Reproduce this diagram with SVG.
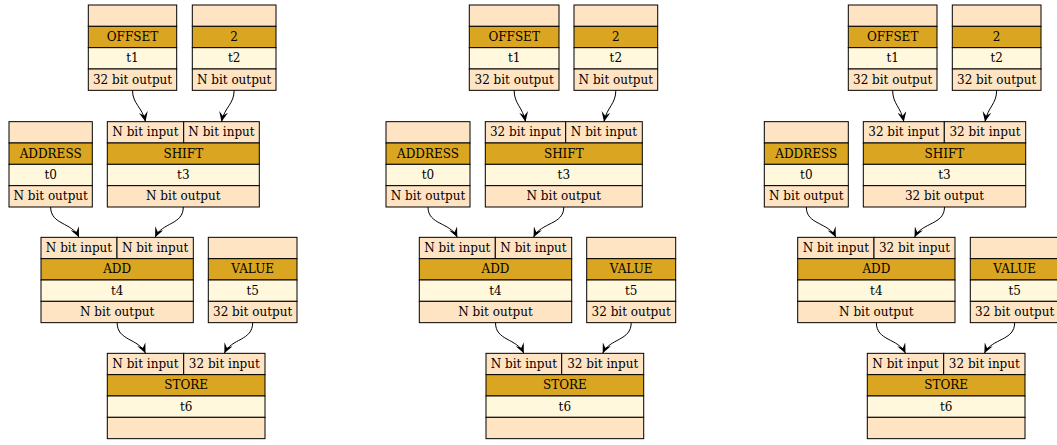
<svg xmlns="http://www.w3.org/2000/svg" width="1057" height="445" viewBox="0 0 1057 445">
<style>
  .io, .op, .id { stroke: #000; stroke-width: 1; }
  .io { fill: #ffe4c4; }
  .op { fill: #daa520; }
  .id { fill: #fff8dc; }
  text { font-family: "DejaVu Serif", "Liberation Serif", serif; font-size: 12px; fill: #000; text-anchor: middle; }
  .edge { fill: none; stroke: #000; stroke-width: 1; marker-end: url(#vee); }
</style>
<defs>
  <marker id="vee" markerUnits="userSpaceOnUse" viewBox="0 0 10 9" markerWidth="10" markerHeight="9" refX="10" refY="4.5" orient="auto">
    <path d="M0,0 L10,4.5 L0,9 L4,4.5 Z" fill="#000"/>
  </marker>
</defs>
<rect width="1057" height="445" fill="#fff"/>

<!-- ============ graph 1 ============ -->
<g id="g1_t1">
  <rect class="io" x="88.3" y="5" width="88.4" height="21.33"/>
  <rect class="op" x="88.3" y="26.33" width="88.4" height="21.33"/>
  <rect class="id" x="88.3" y="47.67" width="88.4" height="21.33"/>
  <rect class="io" x="88.3" y="69" width="88.4" height="21.33"/>
  <text x="132.5" y="41">OFFSET</text><text x="132.5" y="62.4">t1</text><text x="132.5" y="83.7">32 bit output</text>
</g>
<g id="g1_t2">
  <rect class="io" x="192.3" y="5" width="83.7" height="21.33"/>
  <rect class="op" x="192.3" y="26.33" width="83.7" height="21.33"/>
  <rect class="id" x="192.3" y="47.67" width="83.7" height="21.33"/>
  <rect class="io" x="192.3" y="69" width="83.7" height="21.33"/>
  <text x="234.15" y="41">2</text><text x="234.15" y="62.4">t2</text><text x="234.15" y="83.7">N bit output</text>
</g>
<g id="g1_t0">
  <rect class="io" x="9" y="121.67" width="83.3" height="21.33"/>
  <rect class="op" x="9" y="143" width="83.3" height="21.33"/>
  <rect class="id" x="9" y="164.33" width="83.3" height="21.33"/>
  <rect class="io" x="9" y="185.67" width="83.3" height="21.33"/>
  <text x="50.65" y="157.7">ADDRESS</text><text x="50.65" y="179">t0</text><text x="50.65" y="200.4">N bit output</text>
</g>
<g id="g1_t3">
  <rect class="io" x="107.3" y="121.67" width="76.4" height="21.33"/>
  <rect class="io" x="183.7" y="121.67" width="75.6" height="21.33"/>
  <rect class="op" x="107.3" y="143" width="152" height="21.33"/>
  <rect class="id" x="107.3" y="164.33" width="152" height="21.33"/>
  <rect class="io" x="107.3" y="185.67" width="152" height="21.33"/>
  <text x="145.5" y="136.4">N bit input</text><text x="221.5" y="136.4">N bit input</text>
  <text x="183.3" y="157.7">SHIFT</text><text x="183.3" y="179">t3</text><text x="183.3" y="200.4">N bit output</text>
</g>
<g id="g1_t4">
  <rect class="io" x="41" y="237.33" width="76" height="21.33"/>
  <rect class="io" x="117" y="237.33" width="76.3" height="21.33"/>
  <rect class="op" x="41" y="258.67" width="152.3" height="21.33"/>
  <rect class="id" x="41" y="280" width="152.3" height="21.33"/>
  <rect class="io" x="41" y="301.33" width="152.3" height="21.33"/>
  <text x="79" y="252">N bit input</text><text x="155.15" y="252">N bit input</text>
  <text x="117.15" y="273.4">ADD</text><text x="117.15" y="294.7">t4</text><text x="117.15" y="316">N bit output</text>
</g>
<g id="g1_t5">
  <rect class="io" x="208.3" y="237.33" width="88.7" height="21.33"/>
  <rect class="op" x="208.3" y="258.67" width="88.7" height="21.33"/>
  <rect class="id" x="208.3" y="280" width="88.7" height="21.33"/>
  <rect class="io" x="208.3" y="301.33" width="88.7" height="21.33"/>
  <text x="252.65" y="273.4">VALUE</text><text x="252.65" y="294.7">t5</text><text x="252.65" y="316">32 bit output</text>
</g>
<g id="g1_t6">
  <rect class="io" x="107.3" y="353.33" width="76.4" height="21.33"/>
  <rect class="io" x="183.7" y="353.33" width="81.3" height="21.33"/>
  <rect class="op" x="107.3" y="374.67" width="157.7" height="21.33"/>
  <rect class="id" x="107.3" y="396" width="157.7" height="21.33"/>
  <rect class="io" x="107.3" y="417.33" width="157.7" height="21.33"/>
  <text x="145.5" y="368">N bit input</text><text x="224.35" y="368">32 bit input</text>
  <text x="186.15" y="389.4">STORE</text><text x="186.15" y="410.7">t6</text>
</g>

<!-- ============ graph 2 ============ -->
<g id="g2_t1">
  <rect class="io" x="469.3" y="5" width="89.7" height="21.33"/>
  <rect class="op" x="469.3" y="26.33" width="89.7" height="21.33"/>
  <rect class="id" x="469.3" y="47.67" width="89.7" height="21.33"/>
  <rect class="io" x="469.3" y="69" width="89.7" height="21.33"/>
  <text x="514.15" y="41">OFFSET</text><text x="514.15" y="62.4">t1</text><text x="514.15" y="83.7">32 bit output</text>
</g>
<g id="g2_t2">
  <rect class="io" x="574" y="5" width="83.7" height="21.33"/>
  <rect class="op" x="574" y="26.33" width="83.7" height="21.33"/>
  <rect class="id" x="574" y="47.67" width="83.7" height="21.33"/>
  <rect class="io" x="574" y="69" width="83.7" height="21.33"/>
  <text x="615.85" y="41">2</text><text x="615.85" y="62.4">t2</text><text x="615.85" y="83.7">N bit output</text>
</g>
<g id="g2_t0">
  <rect class="io" x="386" y="121.67" width="84" height="21.33"/>
  <rect class="op" x="386" y="143" width="84" height="21.33"/>
  <rect class="id" x="386" y="164.33" width="84" height="21.33"/>
  <rect class="io" x="386" y="185.67" width="84" height="21.33"/>
  <text x="428" y="157.7">ADDRESS</text><text x="428" y="179">t0</text><text x="428" y="200.4">N bit output</text>
</g>
<g id="g2_t3">
  <rect class="io" x="485.3" y="121.67" width="80.4" height="21.33"/>
  <rect class="io" x="565.7" y="121.67" width="76.6" height="21.33"/>
  <rect class="op" x="485.3" y="143" width="157" height="21.33"/>
  <rect class="id" x="485.3" y="164.33" width="157" height="21.33"/>
  <rect class="io" x="485.3" y="185.67" width="157" height="21.33"/>
  <text x="525.5" y="136.4">32 bit input</text><text x="604" y="136.4">N bit input</text>
  <text x="563.8" y="157.7">SHIFT</text><text x="563.8" y="179">t3</text><text x="563.8" y="200.4">N bit output</text>
</g>
<g id="g2_t4">
  <rect class="io" x="419.3" y="237.33" width="76" height="21.33"/>
  <rect class="io" x="495.3" y="237.33" width="76.4" height="21.33"/>
  <rect class="op" x="419.3" y="258.67" width="152.4" height="21.33"/>
  <rect class="id" x="419.3" y="280" width="152.4" height="21.33"/>
  <rect class="io" x="419.3" y="301.33" width="152.4" height="21.33"/>
  <text x="457.3" y="252">N bit input</text><text x="533.5" y="252">N bit input</text>
  <text x="495.5" y="273.4">ADD</text><text x="495.5" y="294.7">t4</text><text x="495.5" y="316">N bit output</text>
</g>
<g id="g2_t5">
  <rect class="io" x="586.7" y="237.33" width="89" height="21.33"/>
  <rect class="op" x="586.7" y="258.67" width="89" height="21.33"/>
  <rect class="id" x="586.7" y="280" width="89" height="21.33"/>
  <rect class="io" x="586.7" y="301.33" width="89" height="21.33"/>
  <text x="631.2" y="273.4">VALUE</text><text x="631.2" y="294.7">t5</text><text x="631.2" y="316">32 bit output</text>
</g>
<g id="g2_t6">
  <rect class="io" x="486" y="353.33" width="75.7" height="21.33"/>
  <rect class="io" x="561.7" y="353.33" width="82" height="21.33"/>
  <rect class="op" x="486" y="374.67" width="157.7" height="21.33"/>
  <rect class="id" x="486" y="396" width="157.7" height="21.33"/>
  <rect class="io" x="486" y="417.33" width="157.7" height="21.33"/>
  <text x="523.85" y="368">N bit input</text><text x="602.7" y="368">32 bit input</text>
  <text x="564.85" y="389.4">STORE</text><text x="564.85" y="410.7">t6</text>
</g>

<!-- ============ graph 3 ============ -->
<g id="g3_t1">
  <rect class="io" x="848.3" y="5" width="88.7" height="21.33"/>
  <rect class="op" x="848.3" y="26.33" width="88.7" height="21.33"/>
  <rect class="id" x="848.3" y="47.67" width="88.7" height="21.33"/>
  <rect class="io" x="848.3" y="69" width="88.7" height="21.33"/>
  <text x="892.65" y="41">OFFSET</text><text x="892.65" y="62.4">t1</text><text x="892.65" y="83.7">32 bit output</text>
</g>
<g id="g3_t2">
  <rect class="io" x="952.3" y="5" width="88.7" height="21.33"/>
  <rect class="op" x="952.3" y="26.33" width="88.7" height="21.33"/>
  <rect class="id" x="952.3" y="47.67" width="88.7" height="21.33"/>
  <rect class="io" x="952.3" y="69" width="88.7" height="21.33"/>
  <text x="996.65" y="41">2</text><text x="996.65" y="62.4">t2</text><text x="996.65" y="83.7">32 bit output</text>
</g>
<g id="g3_t0">
  <rect class="io" x="764.3" y="121.67" width="84" height="21.33"/>
  <rect class="op" x="764.3" y="143" width="84" height="21.33"/>
  <rect class="id" x="764.3" y="164.33" width="84" height="21.33"/>
  <rect class="io" x="764.3" y="185.67" width="84" height="21.33"/>
  <text x="806.3" y="157.7">ADDRESS</text><text x="806.3" y="179">t0</text><text x="806.3" y="200.4">N bit output</text>
</g>
<g id="g3_t3">
  <rect class="io" x="863.3" y="121.67" width="81" height="21.33"/>
  <rect class="io" x="944.3" y="121.67" width="81.4" height="21.33"/>
  <rect class="op" x="863.3" y="143" width="162.4" height="21.33"/>
  <rect class="id" x="863.3" y="164.33" width="162.4" height="21.33"/>
  <rect class="io" x="863.3" y="185.67" width="162.4" height="21.33"/>
  <text x="903.8" y="136.4">32 bit input</text><text x="985" y="136.4">32 bit input</text>
  <text x="944.5" y="157.7">SHIFT</text><text x="944.5" y="179">t3</text><text x="944.5" y="200.4">32 bit output</text>
</g>
<g id="g3_t4">
  <rect class="io" x="797.7" y="237.33" width="76.3" height="21.33"/>
  <rect class="io" x="874" y="237.33" width="81" height="21.33"/>
  <rect class="op" x="797.7" y="258.67" width="157.3" height="21.33"/>
  <rect class="id" x="797.7" y="280" width="157.3" height="21.33"/>
  <rect class="io" x="797.7" y="301.33" width="157.3" height="21.33"/>
  <text x="835.85" y="252">N bit input</text><text x="914.5" y="252">32 bit input</text>
  <text x="876.35" y="273.4">ADD</text><text x="876.35" y="294.7">t4</text><text x="876.35" y="316">N bit output</text>
</g>
<g id="g3_t5">
  <rect class="io" x="970.3" y="237.33" width="88.7" height="21.33"/>
  <rect class="op" x="970.3" y="258.67" width="88.7" height="21.33"/>
  <rect class="id" x="970.3" y="280" width="88.7" height="21.33"/>
  <rect class="io" x="970.3" y="301.33" width="88.7" height="21.33"/>
  <text x="1014.65" y="273.4">VALUE</text><text x="1014.65" y="294.7">t5</text><text x="1014.65" y="316">32 bit output</text>
</g>
<g id="g3_t6">
  <rect class="io" x="867.3" y="353.33" width="76.4" height="21.33"/>
  <rect class="io" x="943.7" y="353.33" width="81.3" height="21.33"/>
  <rect class="op" x="867.3" y="374.67" width="157.7" height="21.33"/>
  <rect class="id" x="867.3" y="396" width="157.7" height="21.33"/>
  <rect class="io" x="867.3" y="417.33" width="157.7" height="21.33"/>
  <text x="905.5" y="368">N bit input</text><text x="984.35" y="368">32 bit input</text>
  <text x="946.15" y="389.4">STORE</text><text x="946.15" y="410.7">t6</text>
</g>

<!-- connectors: output port (south) to input port (north) -->
<g id="edges">
  <path class="edge" d="M132.5,90.3 C132.5,104 142.25,107 145.5,121.7"/>
  <path class="edge" d="M234.15,90.3 C234.15,104 224.66,107 221.5,121.7"/>
  <path class="edge" d="M50.65,207 C50.65,225 71.9,222 79,237.3"/>
  <path class="edge" d="M183.3,207 C183.3,225 162.2,222 155.15,237.3"/>
  <path class="edge" d="M117.15,322.7 C117.15,341 138.4,338 145.5,353.3"/>
  <path class="edge" d="M252.65,322.7 C252.65,341 231.4,338 224.35,353.3"/>

  <path class="edge" d="M514.15,90.3 C514.15,104 522.7,107 525.5,121.7"/>
  <path class="edge" d="M615.85,90.3 C615.85,104 607,107 604,121.7"/>
  <path class="edge" d="M428,207 C428,225 450,222 457.3,237.3"/>
  <path class="edge" d="M563.8,207 C563.8,225 541.1,222 533.5,237.3"/>
  <path class="edge" d="M495.5,322.7 C495.5,341 516.8,338 523.85,353.3"/>
  <path class="edge" d="M631.2,322.7 C631.2,341 609.8,338 602.7,353.3"/>

  <path class="edge" d="M892.65,90.3 C892.65,104 901,107 903.8,121.7"/>
  <path class="edge" d="M996.65,90.3 C996.65,104 987.9,107 985,121.7"/>
  <path class="edge" d="M806.3,207 C806.3,225 828.5,222 835.85,237.3"/>
  <path class="edge" d="M944.5,207 C944.5,225 922,222 914.5,237.3"/>
  <path class="edge" d="M876.35,322.7 C876.35,341 898.2,338 905.5,353.3"/>
  <path class="edge" d="M1014.65,322.7 C1014.65,341 991.9,338 984.35,353.3"/>
</g>
</svg>
